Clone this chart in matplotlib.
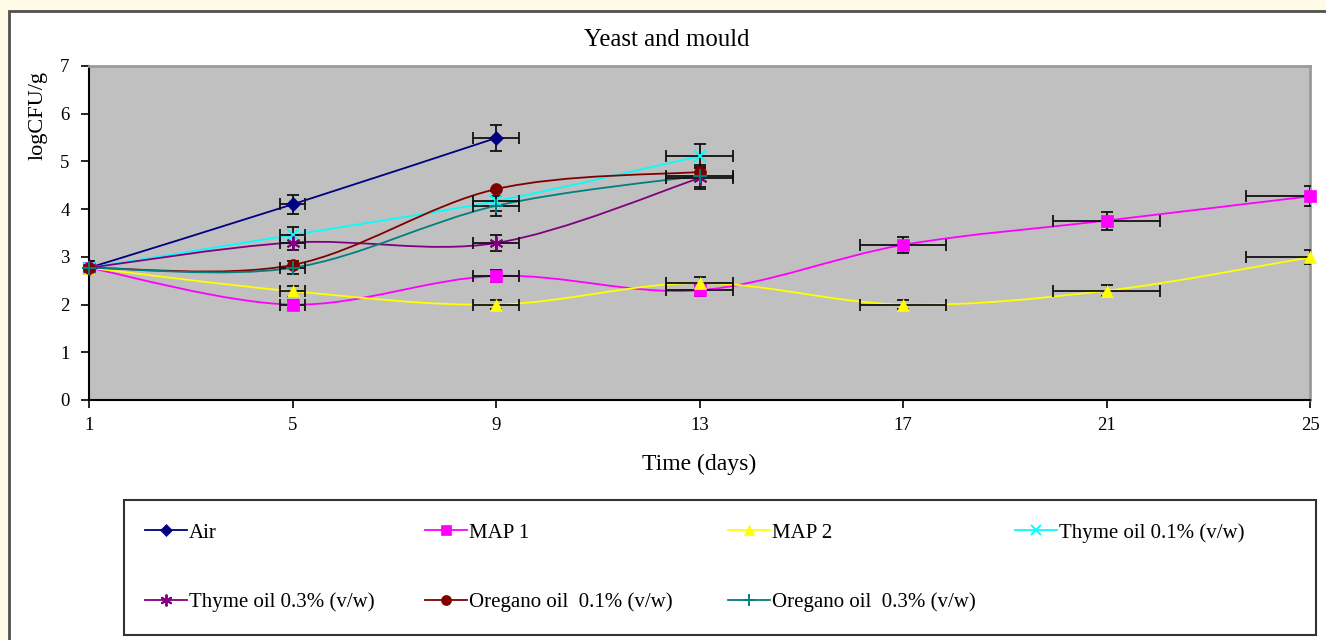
import numpy as np
import matplotlib.pyplot as plt
from matplotlib.path import Path
from matplotlib.patches import PathPatch, Rectangle
from matplotlib.lines import Line2D

plt.rcParams['font.family'] = ['Liberation Serif', 'DejaVu Serif']

# sampling days (x) for each series
days_air = [1, 5, 9]
days_oil = [1, 5, 9, 13]
days_map = [1, 5, 9, 13, 17, 21, 25]

# logCFU/g values
air = [2.77, 4.10, 5.49]
map1 = [2.77, 2.00, 2.60, 2.30, 3.25, 3.76, 4.27]
map2 = [2.77, 2.28, 2.00, 2.45, 2.00, 2.29, 2.99]
thyme01 = [2.77, 3.46, 4.17, 5.11]
thyme03 = [2.77, 3.30, 3.29, 4.65]
oregano01 = [2.77, 2.83, 4.42, 4.78]
oregano03 = [2.77, 2.77, 4.07, 4.70]

labels = ['Air', 'MAP 1', 'MAP 2', 'Thyme oil 0.1% (v/w)', 'Thyme oil 0.3% (v/w)',
          'Oregano oil  0.1% (v/w)', 'Oregano oil  0.3% (v/w)']
xticks = [1, 5, 9, 13, 17, 21, 25]
yticks = [0, 1, 2, 3, 4, 5, 6, 7]

# Excel style percentage error bars (5 %)
err_pct = 0.05

series = [
    # x, y, colour, marker, marker size, error bars?
    (days_air, air, '#000080', 'D', 7, True),
    (days_map, map1, '#ff00ff', 's', 8, True),
    (days_map, map2, '#ffff00', '^', 8.5, True),
    (days_oil, thyme01, '#00ffff', 'x', 8, True),
    (days_oil, thyme03, '#800080', (6, 2, 0), 10, True),
    (days_oil, oregano01, '#800000', 'o', 8.5, False),
    (days_oil, oregano03, '#008080', '+', 10, True),
]


def smooth_path(x, y):
    # Excel "smoothed line": cubic bezier through the points
    pts = np.column_stack([x, y]).astype(float)
    n = len(pts)
    verts = [pts[0]]
    codes = [Path.MOVETO]
    for i in range(n - 1):
        p0 = pts[max(i - 1, 0)]
        p1 = pts[i]
        p2 = pts[i + 1]
        p3 = pts[min(i + 2, n - 1)]
        verts += [p1 + (p2 - p0) / 6, p2 - (p3 - p1) / 6, p2]
        codes += [Path.CURVE4] * 3
    return Path(verts, codes)


W, H = 1326, 640
fig = plt.figure(figsize=(W / 100, H / 100), dpi=100)
fig.patch.set_facecolor('#fffae6')

# white chart area with dark border
fig.patches.append(Rectangle((9 / W, -0.1), 1.2, 1 - 11 / H + 0.1, transform=fig.transFigure,
                             facecolor='white', edgecolor='#505050', lw=2, zorder=-2))

ax = fig.add_axes([89 / W, 1 - 400 / H, (1310 - 89) / W, (400 - 66) / H])
ax.set_facecolor('#c0c0c0')

handles = []
for x, y, c, m, ms, has_err in series:
    x = np.array(x, dtype=float)
    y = np.array(y, dtype=float)
    ax.add_patch(PathPatch(smooth_path(x, y), fill=False, edgecolor=c, lw=1.3, zorder=2))
    if has_err:
        ax.errorbar(x, y, xerr=x * err_pct, yerr=y * err_pct, fmt='none', ecolor='#111111',
                    elinewidth=1.3, capsize=4, capthick=1.3, zorder=3)
    mew = 1.4 if m in ('x', '+', (6, 2, 0)) else 0.5
    ax.plot(x, y, linestyle='none', marker=m, ms=ms, color=c, mec=c, mew=mew, zorder=4,
            clip_on=False)
    handles.append(Line2D([], [], color=c, lw=1.3, marker=m, ms=ms * 0.85, mec=c, mew=mew))

ax.set_xlim(1, 25)
ax.set_ylim(0, 7)
ax.set_xticks(xticks)
ax.set_yticks(yticks)
ax.tick_params(axis='both', direction='out', length=6, width=1.2, labelsize=13.5, colors='black')
ax.tick_params(axis='y', pad=8)
ax.tick_params(axis='x', pad=6)
for s in ['left', 'bottom']:
    ax.spines[s].set_color('black')
    ax.spines[s].set_linewidth(1.5)
for s in ['top', 'right']:
    ax.spines[s].set_color('#9a9a9a')
    ax.spines[s].set_linewidth(2)

ax.set_xlabel('Time (days)', fontsize=17, va='center')
ax.xaxis.set_label_coords(0.5, (400 - 464) / (400 - 66))
ax.set_ylabel('logCFU/g', fontsize=16, va='center', ha='center')
ax.yaxis.set_label_coords((38 - 89) / (1310 - 89), (400 - 116) / (400 - 66))

fig.text(667 / W, 1 - 40 / H, 'Yeast and mould', fontsize=17.8, ha='center', va='center')

# legend box below the plot
fig.patches.append(Rectangle((124 / W, 1 - 635 / H), (1316 - 124) / W, (635 - 500) / H,
                             transform=fig.transFigure, facecolor='white', edgecolor='#333333',
                             lw=1.5, zorder=-1))

# four legend columns, row major like the original
col_x = [145, 425, 728, 1015]
cols = [[0, 4], [1, 5], [2, 6], [3]]
for cx, idx in zip(col_x, cols):
    lg = fig.legend([handles[i] for i in idx], [labels[i] for i in idx], loc='upper left',
                    bbox_to_anchor=(cx / W, 1 - 523 / H), frameon=False, fontsize=15,
                    handlelength=2.0, handletextpad=0.1, labelspacing=2.4, borderpad=0,
                    borderaxespad=0)
    lg.set_zorder(5)

fig.savefig('out.png', dpi=100, facecolor=fig.get_facecolor())
